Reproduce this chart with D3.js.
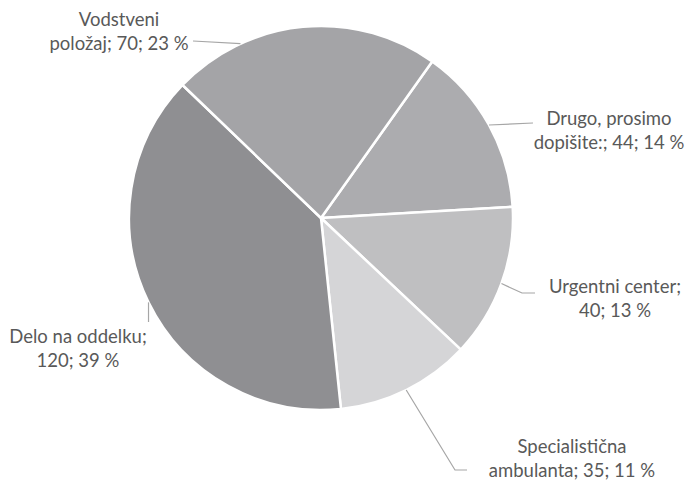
<!DOCTYPE html>
<html>
<head>
<meta charset="utf-8">
<script src="https://cdn.jsdelivr.net/npm/d3@7"></script>
<style>
  html, body { margin: 0; padding: 0; background: #fff; }
  svg text { font-family: Lato, "Open Sans", sans-serif; fill: #595959; }
</style>
</head>
<body>
<svg id="chart" width="686" height="484"></svg>
<script>
// ---- data ----
const categories = ["Drugo, prosimo dopišite:", "Urgentni center", "Specialistična ambulanta", "Delo na oddelku", "Vodstveni položaj"];
const values = [44, 40, 35, 120, 70];
const colors = ["#acacaf", "#bfbfc1", "#d5d5d7", "#8f8f92", "#a4a4a7"];
// label text lines (as shown in the chart)
const labelLines = [
  ["Drugo, prosimo", "dopišite:; 44; 14 %"],
  ["Urgentni center;", "40; 13 %"],
  ["Specialistična", "ambulanta; 35; 11 %"],
  ["Delo na oddelku;", "120; 39 %"],
  ["Vodstveni", "položaj; 70; 23 %"]
];

// ---- layout ----
const W = 686, H = 484;
const cx = 321, cy = 218, R = 192;
const startDeg = 35.4;
const fontSize = 18.5, lineH = 24;

const svg = d3.select("#chart");
const g = svg.append("g").attr("transform", `translate(${cx},${cy})`);

const pie = d3.pie().sort(null).value(d => d)
  .startAngle(startDeg * Math.PI / 180)
  .endAngle(startDeg * Math.PI / 180 + 2 * Math.PI);
const arcs = pie(values);
const arc = d3.arc().innerRadius(0).outerRadius(R);

g.selectAll("path.slice").data(arcs).join("path")
  .attr("class", "slice")
  .attr("d", arc)
  .attr("fill", (d, i) => colors[i])
  .attr("stroke", "#fff")
  .attr("stroke-width", 2.5)
  .attr("stroke-linejoin", "round");

// point on pie edge at angle (radians, clockwise from 12 o'clock)
const edge = a => [R * Math.sin(a), -R * Math.cos(a)];

// label placement (relative to pie centre): text centre x, first baseline y, leader path
const placement = [
  { tx: 288, ty: -93, attach: null, leader: p => [p, [212, p[1] - 2]] },
  { tx: 294, ty: 75, attach: null, leader: p => [p, [201, 75], [214, 75]] },
  { tx: 251, ty: 235, attach: null, leader: p => [p, [134, 252], [146, 252]] },
  { tx: -243, ty: 125, attach: null, leader: p => [p, [p[0], 104]] },
  { tx: -202, ty: -192, attach: 335.2, leader: p => [p, [-128, -177]] }
];

arcs.forEach((d, i) => {
  const pl = placement[i];
  const a = pl.attach != null ? pl.attach * Math.PI / 180 : (d.startAngle + d.endAngle) / 2;
  const p = edge(a);
  g.append("path")
    .attr("d", d3.line()(pl.leader(p)))
    .attr("fill", "none")
    .attr("stroke", "#a6a6a6")
    .attr("stroke-width", 1.2);
  const t = g.append("text")
    .attr("text-anchor", "middle")
    .attr("font-size", fontSize);
  labelLines[i].forEach((line, k) => {
    t.append("tspan").attr("x", pl.tx).attr("y", pl.ty + k * lineH).text(line);
  });
});
</script>
</body>
</html>
